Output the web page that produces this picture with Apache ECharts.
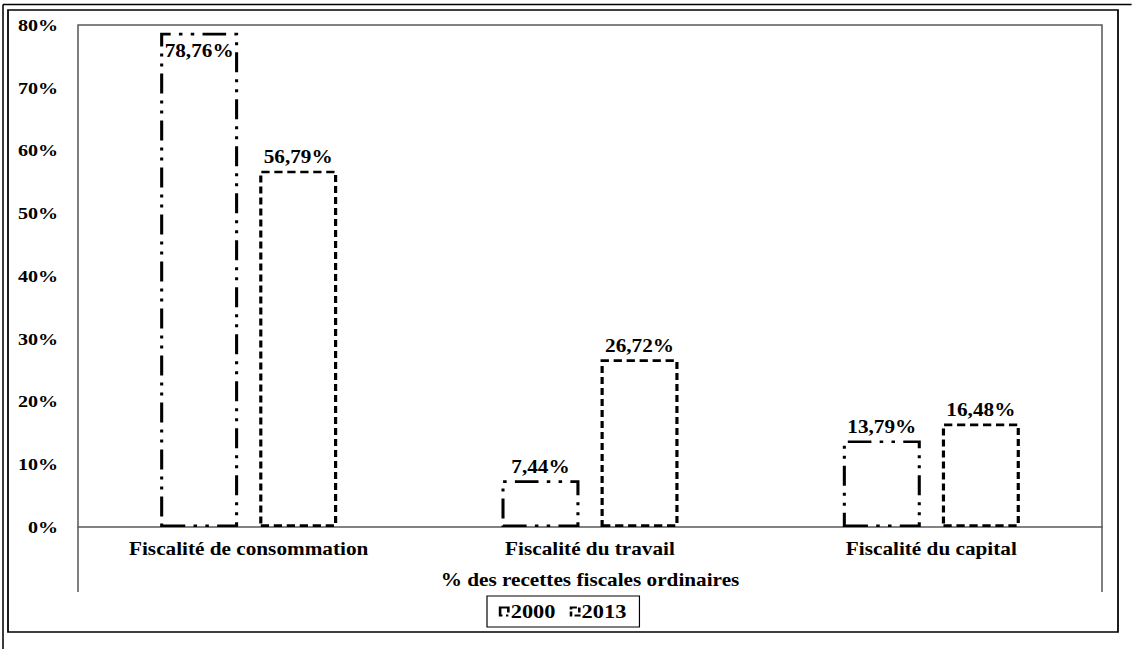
<!DOCTYPE html>
<html>
<head>
<meta charset="utf-8">
<script src="https://cdn.jsdelivr.net/npm/echarts@6/dist/echarts.min.js"></script>
<style>
  html, body { margin: 0; padding: 0; background: #fff; overflow: hidden; }
  #wrap { width: 1132px; height: 649px; overflow: hidden; }
  #chart { height: 649px; transform-origin: 0 0; }
</style>
</head>
<body>
<div id="wrap"><div id="chart"></div></div>
<script>
// Shares of ordinary tax revenue by tax base, 2000 vs 2013
const categories = ['Fiscalité de consommation', 'Fiscalité du travail', 'Fiscalité du capital'];
const years = ['2000', '2013'];
const values2000 = [78.76, 7.44, 13.79];
const values2013 = [56.79, 26.72, 16.48];
const yMax = 80;
const yStep = 10;
const axisTitle = '% des recettes fiscales ordinaires';

// The figure uses a wide, horizontally stretched type face; the drawing is
// laid out on a narrower canvas and widened by this factor.
const STRETCH = 1.18;
const PAGE_W = 1132, PAGE_H = 649;
const W = PAGE_W / STRETCH;
const sx = v => v / STRETCH;

const el = document.getElementById('chart');
el.style.width = W + 'px';
el.style.transform = 'scaleX(' + STRETCH + ')';

const FONT = '"Liberation Serif", "Times New Roman", serif';
const txt = size => ({ fontFamily: FONT, fontWeight: 'bold', fontSize: size, color: '#000' });
const fmt = v => v.toFixed(2).replace('.', ',') + '%';

const plotL = sx(78), plotR = sx(1102), plotT = 25, plotB = 527;

// line patterns of the two years
const dash2000 = [20, 7, 3, 7, 3, 7];
const dash2013 = [7, 4];

function barData(values) {
  return values.map(v => ({
    value: v,
    label: v > yMax - 4
      ? { position: 'insideTop', distance: 9 }
      : { position: 'top', distance: 5 }
  }));
}

const chart = echarts.init(el, null, { renderer: 'svg', width: W, height: PAGE_H });

chart.setOption({
  animation: false,
  backgroundColor: '#fff',
  grid: {
    left: plotL,
    right: W - plotR,
    top: plotT,
    bottom: PAGE_H - plotB,
    show: true,
    borderColor: '#595959',
    borderWidth: 1.3,
    backgroundColor: 'transparent'
  },
  legend: {
    data: [
      { name: years[0], icon: 'rect',
        itemStyle: { color: '#fff', borderColor: '#000', borderWidth: 2.2, borderType: [12, 3, 2, 3] } },
      { name: years[1], icon: 'rect',
        itemStyle: { color: '#fff', borderColor: '#000', borderWidth: 2.2, borderType: [5, 2] } }
    ],
    left: sx(487),
    top: 596,
    orient: 'horizontal',
    borderColor: '#000',
    borderWidth: 1,
    padding: [6, 11, 6, 10],
    itemGap: 12,
    itemWidth: 7,
    itemHeight: 8,
    textStyle: Object.assign(txt(19), { padding: [0, 0, 0, -3] })
  },
  xAxis: {
    type: 'category',
    data: categories,
    axisLine: { show: false },
    axisTick: { show: false },
    axisLabel: Object.assign(txt(18), { margin: 13 }),
    name: axisTitle,
    nameLocation: 'middle',
    nameGap: 44,
    nameTextStyle: txt(18)
  },
  yAxis: {
    type: 'value',
    min: 0,
    max: yMax,
    interval: yStep,
    axisLine: { show: false },
    axisTick: { show: false },
    splitLine: { show: false },
    axisLabel: Object.assign(txt(17), {
      margin: sx(20),
      formatter: v => v + '%'
    })
  },
  series: [
    {
      name: years[0],
      type: 'bar',
      data: barData(values2000),
      barWidth: sx(78),
      barGap: '27%',
      itemStyle: {
        color: 'rgba(255,255,255,0)',
        borderColor: '#000',
        borderWidth: 2.6,
        borderType: dash2000
      },
      label: Object.assign({ show: true, formatter: p => fmt(p.value) }, txt(18))
    },
    {
      name: years[1],
      type: 'bar',
      data: barData(values2013),
      barWidth: sx(78),
      itemStyle: {
        color: 'rgba(255,255,255,0)',
        borderColor: '#000',
        borderWidth: 2.7,
        borderType: dash2013
      },
      label: Object.assign({ show: true, formatter: p => fmt(p.value) }, txt(18))
    }
  ],
  graphic: [
    // outer page rules
    { type: 'line', silent: true, z: 100,
      shape: { x1: sx(3), y1: 4.5, x2: W, y2: 4.5 },
      style: { stroke: '#000', lineWidth: 1.5 } },
    { type: 'line', silent: true, z: 100,
      shape: { x1: sx(3), y1: 4.5, x2: sx(3), y2: PAGE_H },
      style: { stroke: '#000', lineWidth: 1.3 } },
    // chart frame
    { type: 'rect', silent: true, z: 100,
      shape: { x: sx(8), y: 10, width: sx(1118 - 8), height: 632 - 10 },
      style: { fill: 'none', stroke: '#000', lineWidth: 1.5 } },
    // plot-area sides continued down past the category labels
    { type: 'line', silent: true, z: 100,
      shape: { x1: plotL, y1: plotB, x2: plotL, y2: 592 },
      style: { stroke: '#595959', lineWidth: 1.3 } },
    { type: 'line', silent: true, z: 100,
      shape: { x1: plotR, y1: plotB, x2: plotR, y2: 592 },
      style: { stroke: '#595959', lineWidth: 1.3 } }
  ]
});
</script>
</body>
</html>
